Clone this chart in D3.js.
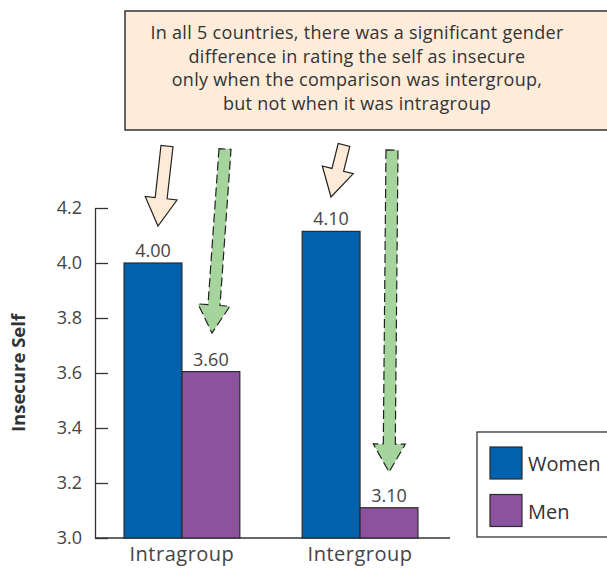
<!DOCTYPE html>
<html>
<head>
<meta charset="utf-8">
<script src="https://cdn.jsdelivr.net/npm/d3@7/dist/d3.min.js"></script>
<style>
  html, body { margin: 0; background: #fff; overflow: hidden; }
  svg { display: block; font-family: "Open Sans", sans-serif; }
</style>
</head>
<body>
<div id="chart"></div>
<script>
// data
var categories = ['Intragroup', 'Intergroup'];
var series = ['Women', 'Men'];
var womenValues = [4.0, 4.115];
var menValues = [3.605, 3.11];
var womenLabels = ['4.00', '4.10'];
var menLabels = ['3.60', '3.10'];
var yTicks = [3.0, 3.2, 3.4, 3.6, 3.8, 4.0, 4.2];
var noteLines = ['In all 5 countries, there was a significant gender',
                 'difference in rating the self as insecure',
                 'only when the comparison was intergroup,',
                 'but not when it was intragroup'];

var colors = { Women: '#0061ad', Men: '#8b529e' };

var width = 607, height = 568;
var svg = d3.select('#chart').append('svg')
    .attr('width', width)
    .attr('height', height);

var y = d3.scaleLinear().domain([3.0, 4.2]).range([538, 208]);
var x0 = d3.scaleBand().domain(categories).range([92, 450]).paddingInner(0.35).paddingOuter(0.18);
var x1 = d3.scaleBand().domain(series).range([0, x0.bandwidth()]);

// y axis, ticks pointing inward
var yAxis = svg.append('g')
    .attr('transform', 'translate(95,0)')
    .call(d3.axisLeft(y).tickValues(yTicks).tickFormat(d3.format('.1f'))
        .tickSizeInner(-13).tickSizeOuter(0).tickPadding(13));
yAxis.select('.domain').attr('stroke', '#333').attr('stroke-width', 1.3);
yAxis.selectAll('.tick line').attr('stroke', '#333').attr('stroke-width', 1.3);
yAxis.selectAll('.tick text')
    .attr('fill', '#444')
    .style('font-size', '18px')
    .style('font-family', '"Open Sans", sans-serif');

// baseline
svg.append('line')
    .attr('x1', 95).attr('x2', 450)
    .attr('y1', y(3.0)).attr('y2', y(3.0))
    .attr('stroke', '#333').attr('stroke-width', 1.5);

// bars
var rows = categories.map(function(c, i) {
    return [
        { cat: c, s: 'Women', v: womenValues[i], label: womenLabels[i] },
        { cat: c, s: 'Men', v: menValues[i], label: menLabels[i] }
    ];
});

var group = svg.selectAll('.grp')
    .data(rows)
    .enter().append('g')
    .attr('class', 'grp')
    .attr('transform', function(d, i) { return 'translate(' + x0(categories[i]) + ',0)'; });

group.selectAll('rect')
    .data(function(d) { return d; })
    .enter().append('rect')
    .attr('x', function(d) { return x1(d.s); })
    .attr('width', x1.bandwidth())
    .attr('y', function(d) { return y(d.v); })
    .attr('height', function(d) { return y(3.0) - y(d.v); })
    .attr('fill', function(d) { return colors[d.s]; })
    .attr('stroke', '#2a2a2a')
    .attr('stroke-width', 1.2);

group.selectAll('text')
    .data(function(d) { return d; })
    .enter().append('text')
    .attr('x', function(d) { return x1(d.s) + x1.bandwidth() / 2; })
    .attr('y', function(d) { return y(d.v) - 6; })
    .attr('text-anchor', 'middle')
    .attr('fill', '#444')
    .style('font-size', '18px')
    .text(function(d) { return d.label; });

// category labels
svg.selectAll('.cat')
    .data(categories)
    .enter().append('text')
    .attr('class', 'cat')
    .attr('x', function(d) { return x0(d) + x0.bandwidth() / 2; })
    .attr('y', 561)
    .attr('text-anchor', 'middle')
    .attr('fill', '#444')
    .style('font-size', '20px')
    .style('letter-spacing', '0.5px')
    .text(function(d) { return d; });

// y title
svg.append('text')
    .attr('transform', 'translate(25,' + y(3.6) + ') rotate(-90)')
    .attr('text-anchor', 'middle')
    .attr('fill', '#333')
    .style('font-size', '18.5px')
    .style('font-weight', 'bold')
    .text('Insecure Self');

// annotation box
svg.append('rect')
    .attr('x', 125).attr('y', 11)
    .attr('width', 500).attr('height', 119)
    .attr('fill', '#fdecd9')
    .attr('stroke', '#333').attr('stroke-width', 1.5);

svg.selectAll('.note')
    .data(noteLines)
    .enter().append('text')
    .attr('class', 'note')
    .attr('x', 357)
    .attr('y', function(d, i) { return 39 + i * 23.7; })
    .attr('text-anchor', 'middle')
    .attr('fill', '#333')
    .style('font-size', '18px')
    .style('letter-spacing', '0.3px')
    .text(function(d) { return d; });

// arrows
function arrowPath(sx, sy, ex, ey, shaftW, headW, headL) {
    var dx = ex - sx, dy = ey - sy;
    var len = Math.sqrt(dx * dx + dy * dy);
    var ux = dx / len, uy = dy / len;
    var px = -uy, py = ux;
    var bx = ex - ux * headL, by = ey - uy * headL;
    var pts = [
        [sx + px * shaftW / 2, sy + py * shaftW / 2],
        [bx + px * shaftW / 2, by + py * shaftW / 2],
        [bx + px * headW / 2, by + py * headW / 2],
        [ex, ey],
        [bx - px * headW / 2, by - py * headW / 2],
        [bx - px * shaftW / 2, by - py * shaftW / 2],
        [sx - px * shaftW / 2, sy - py * shaftW / 2]
    ];
    return 'M' + pts.map(function(p) { return p[0].toFixed(1) + ',' + p[1].toFixed(1); }).join('L') + 'Z';
}

var arrows = [
    { s: [167, 146], e: [158, 226], fill: '#fdebd7', dash: null },
    { s: [344, 145], e: [331, 197], fill: '#fdebd7', dash: null },
    { s: [225, 149], e: [212, 333], fill: '#a6d49d', dash: '9,4' },
    { s: [392, 150], e: [389, 472], fill: '#a6d49d', dash: '9,4' }
];

svg.selectAll('.arrow')
    .data(arrows)
    .enter().append('path')
    .attr('class', 'arrow')
    .attr('d', function(d) { return arrowPath(d.s[0], d.s[1], d.e[0], d.e[1], 12, 32, 28); })
    .attr('fill', function(d) { return d.fill; })
    .attr('stroke', '#222')
    .attr('stroke-width', 1.2)
    .attr('stroke-linejoin', 'miter')
    .attr('stroke-dasharray', function(d) { return d.dash; });

// legend
var legend = svg.append('g');
legend.append('rect')
    .attr('x', 477).attr('y', 432)
    .attr('width', 160).attr('height', 105)
    .attr('fill', '#fff')
    .attr('stroke', '#333').attr('stroke-width', 1.3);

var item = legend.selectAll('.item')
    .data(series)
    .enter().append('g')
    .attr('class', 'item')
    .attr('transform', function(d, i) { return 'translate(490,' + (447 + i * 47.5) + ')'; });

item.append('rect')
    .attr('width', 32).attr('height', 32)
    .attr('fill', function(d) { return colors[d]; })
    .attr('stroke', '#2a2a2a').attr('stroke-width', 1.2);

item.append('text')
    .attr('x', 38).attr('y', 24)
    .attr('fill', '#333')
    .style('font-size', '20px')
    .text(function(d) { return d; });
</script>
</body>
</html>
